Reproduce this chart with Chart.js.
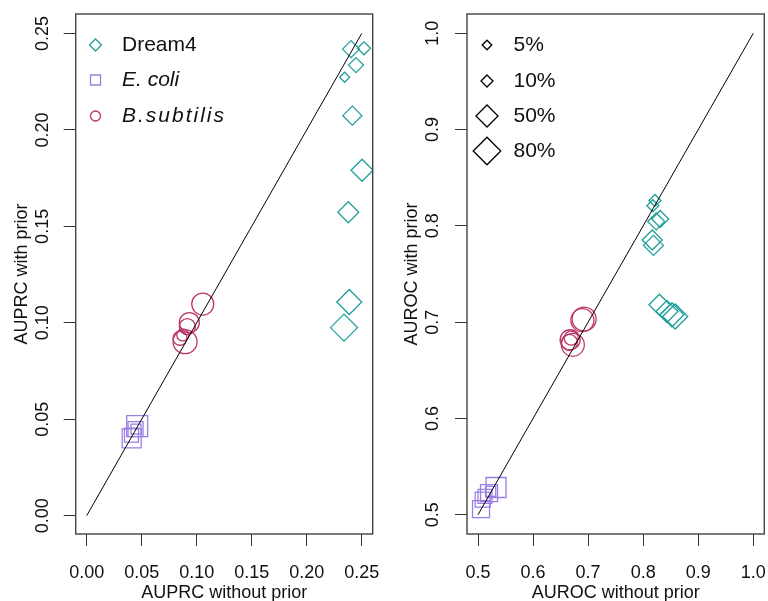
<!DOCTYPE html>
<html>
<head>
<meta charset="utf-8">
<script src="https://cdn.jsdelivr.net/npm/chart.js@4.4.1/dist/chart.umd.min.js"></script>
<style>
  html, body { margin: 0; padding: 0; background: #fff; overflow: hidden; }
  #wrap { position: relative; width: 768px; height: 601px; }
  .panel { position: absolute; top: 0; width: 384px; height: 601px; }
  #panel-pr  { left: 0; }
  #panel-roc { left: 384px; }
</style>
</head>
<body>
<div id="wrap">
  <div class="panel" id="panel-pr"><canvas id="chart-pr"></canvas></div>
  <div class="panel" id="panel-roc"><canvas id="chart-roc"></canvas></div>
</div>
<script>
// ============================================================
// AUPRC / AUROC with vs. without prior — two scatter panels
// ============================================================

// ---- axis ticks ----
const prTicks   = [0, 0.05, 0.10, 0.15, 0.20, 0.25];
const prLabels  = ['0.00', '0.05', '0.10', '0.15', '0.20', '0.25'];
const rocTicks  = [0.5, 0.6, 0.7, 0.8, 0.9, 1.0];
const rocLabels = ['0.5', '0.6', '0.7', '0.8', '0.9', '1.0'];

// ---- identity lines ----
const prDiag  = [0, 0.25];
const rocDiag = [0.5, 1.0];

// ---- AUPRC (x = without prior, y = with prior), cex = symbol scale ----
const dreamPrX   = [0.2403, 0.2521, 0.2448, 0.2345, 0.2415, 0.2503, 0.2378, 0.2387, 0.2339];
const dreamPrY   = [0.2419, 0.2423, 0.2336, 0.2273, 0.2074, 0.1791, 0.1573, 0.1108, 0.0975];
const dreamPrCex = [1.7, 1.3, 1.5, 1.0, 1.9, 2.2, 2.1, 2.5, 2.7];

const ecoliPrX   = [0.0459, 0.0409, 0.0444, 0.0448, 0.0407];
const ecoliPrY   = [0.0464, 0.0401, 0.0449, 0.0449, 0.0418];
const ecoliPrCex = [2.1, 1.9, 1.5, 1.0, 1.4];

const bsubPrX    = [0.1055, 0.0933, 0.0915, 0.0894, 0.0848, 0.0873];
const bsubPrY    = [0.1097, 0.1001, 0.0980, 0.0902, 0.0920, 0.0937];
const bsubPrCex  = [2.2, 2.0, 1.6, 2.4, 1.4, 1.2];

// ---- AUROC ----
const dreamRocX   = [0.8213, 0.8176, 0.8309, 0.8236, 0.8164, 0.8187, 0.8296, 0.8431, 0.8522, 0.8582];
const dreamRocY   = [0.8264, 0.8209, 0.8071, 0.8046, 0.7853, 0.7797, 0.7181, 0.7111, 0.7077, 0.7059];
const dreamRocCex = [1.2, 1.2, 1.7, 1.7, 2.0, 2.0, 2.1, 2.2, 2.4, 2.5];

const ecoliRocX   = [0.5327, 0.5200, 0.5127, 0.5085, 0.5055, 0.5231];
const ecoliRocY   = [0.5283, 0.5225, 0.5190, 0.5156, 0.5059, 0.5242];
const ecoliRocCex = [2.0, 1.7, 1.4, 1.5, 1.7, 1.0];

const bsubRocX    = [0.6927, 0.6896, 0.6673, 0.6722, 0.6660, 0.6691];
const bsubRocY    = [0.7032, 0.7020, 0.6817, 0.6765, 0.6789, 0.6835];
const bsubRocCex  = [2.4, 2.3, 2.0, 2.3, 1.6, 1.4];

// ---- legends ----
const datasetNames = ['Dream4', 'E. coli', 'B.subtilis'];
const priorNames   = ['5%', '10%', '50%', '80%'];
const priorCex     = [0.95, 1.2, 2.2, 2.75];


const FONT  = "'Liberation Sans', Arial, sans-serif";
const TEAL  = '#22A09A';
const LILAC = '#9B7EE3';
const RUBY  = '#BC3769';
const INK   = '#111';

// radius (chart.js units) for cex = 1, per point style
const BASE = { rectRot: 5, rect: 7.07, circle: 5 };

Chart.defaults.font.family = FONT;

function scatterSet(label, xs, ys, cex, style, color) {
  return {
    label,
    data: xs.map((x, i) => ({ x, y: ys[i] })),
    pointStyle: style,
    pointRadius: cex.map(c => c * BASE[style]),
    pointBorderColor: color,
    pointBackgroundColor: 'rgba(0,0,0,0)',
    pointBorderWidth: 1.3,
    showLine: false
  };
}

function diagSet(ends) {
  return {
    data: ends.map(v => ({ x: v, y: v })),
    showLine: true,
    borderColor: '#000',
    borderWidth: 1,
    pointRadius: 0
  };
}

// draws one R-like open symbol
function drawSymbol(ctx, style, x, y, r) {
  ctx.beginPath();
  if (style === 'rectRot') {
    ctx.moveTo(x - r, y); ctx.lineTo(x, y - r); ctx.lineTo(x + r, y); ctx.lineTo(x, y + r);
    ctx.closePath();
  } else if (style === 'rect') {
    const h = r * Math.SQRT1_2;
    ctx.rect(x - h, y - h, 2 * h, 2 * h);
  } else {
    ctx.arc(x, y, r, 0, Math.PI * 2);
  }
  ctx.stroke();
}

// box around the plot region + legend inside it
const boxLegend = {
  id: 'boxLegend',
  afterDatasetsDraw(chart, args, opts) {
    const { ctx, chartArea: a } = chart;
    ctx.save();
    ctx.strokeStyle = '#444';
    ctx.lineWidth = 1.4;
    ctx.strokeRect(a.left, a.top, a.right - a.left, a.bottom - a.top);

    ctx.lineWidth = 1.3;
    ctx.textBaseline = 'middle';
    ctx.textAlign = 'left';
    opts.items.forEach(it => {
      ctx.strokeStyle = it.color;
      drawSymbol(ctx, it.style, it.sx, it.y, it.r);
      ctx.fillStyle = INK;
      ctx.font = (it.italic ? 'italic ' : '') + '21px ' + FONT;
      ctx.letterSpacing = it.spacing || '0px';
      ctx.fillText(it.text, it.tx, it.y);
    });
    ctx.restore();
  }
};

function axis(min, max, ticks, labels, title, isX, fit, tickPad, titlePad) {
  return {
    type: 'linear',
    min, max,
    afterBuildTicks: s => { s.ticks = ticks.map(v => ({ value: v })); },
    afterFit: s => {
      if (isX) { s.height = fit; s.paddingLeft = 0; s.paddingRight = 0; }
      else     { s.width = fit;  s.paddingTop = 0;  s.paddingBottom = 0; }
    },
    border: { display: false },
    grid: { drawOnChartArea: false, drawTicks: true, tickLength: 12, color: '#333', lineWidth: 1 },
    ticks: {
      color: INK,
      font: { size: 18 },
      padding: tickPad,
      autoSkip: false,
      minRotation: isX ? 0 : 90,
      maxRotation: isX ? 0 : 90,
      crossAlign: isX ? 'near' : 'center',
      callback: (v, i) => labels[i]
    },
    title: {
      display: true,
      text: title,
      color: INK,
      font: { size: 18, lineHeight: 1 },
      padding: isX ? { top: 0, bottom: -1.5 } : { top: titlePad, bottom: 0 }
    }
  };
}

function baseOptions(rightPad, xs, ys, legendItems) {
  return {
    responsive: true,
    maintainAspectRatio: false,
    animation: false,
    events: [],
    layout: { autoPadding: false, padding: { top: 14, right: rightPad, bottom: 0, left: 0 } },
    plugins: {
      legend: { display: false },
      tooltip: { enabled: false },
      boxLegend: { items: legendItems }
    },
    scales: { x: xs, y: ys }
  };
}

// ---- left panel: AUPRC ----
new Chart(document.getElementById('chart-pr'), {
  type: 'scatter',
  data: {
    datasets: [
      diagSet(prDiag),
      scatterSet(datasetNames[0], dreamPrX, dreamPrY, dreamPrCex, 'rectRot', TEAL),
      scatterSet(datasetNames[1], ecoliPrX, ecoliPrY, ecoliPrCex, 'rect', LILAC),
      scatterSet(datasetNames[2], bsubPrX, bsubPrY, bsubPrCex, 'circle', RUBY)
    ]
  },
  options: baseOptions(
    11.3,
    axis(-0.01, 0.26, prTicks, prLabels, 'AUPRC without prior', true, 67, 16.5),
    axis(-0.0095, 0.2601, prTicks, prLabels, 'AUPRC with prior', false, 75.7, 3.2, 13),
    [
      { text: datasetNames[0], style: 'rectRot', r: 6,    color: TEAL,  sx: 95.5, tx: 122, y: 45 },
      { text: datasetNames[1], style: 'rect',    r: 7.07, color: LILAC, sx: 95.5, tx: 122, y: 80, italic: true },
      { text: datasetNames[2], style: 'circle',  r: 5,    color: RUBY,  sx: 95.5, tx: 122, y: 116, italic: true, spacing: '2px' }
    ]
  ),
  plugins: [boxLegend]
});

// ---- right panel: AUROC ----
new Chart(document.getElementById('chart-roc'), {
  type: 'scatter',
  data: {
    datasets: [
      diagSet(rocDiag),
      scatterSet(datasetNames[0], dreamRocX, dreamRocY, dreamRocCex, 'rectRot', TEAL),
      scatterSet(datasetNames[1], ecoliRocX, ecoliRocY, ecoliRocCex, 'rect', LILAC),
      scatterSet(datasetNames[2], bsubRocX, bsubRocY, bsubRocCex, 'circle', RUBY)
    ]
  },
  options: baseOptions(
    3.7,
    axis(0.48, 1.02, rocTicks, rocLabels, 'AUROC without prior', true, 67, 16.5),
    axis(0.48, 1.02, rocTicks, rocLabels, 'AUROC with prior', false, 83, 9.2, 19),
    priorNames.map((p, i) => ({
      text: p, style: 'rectRot', r: priorCex[i] * BASE.rectRot, color: '#000',
      sx: 103, tx: 129.5, y: [45, 81, 116, 151][i]
    }))
  ),
  plugins: [boxLegend]
});
</script>
</body>
</html>
